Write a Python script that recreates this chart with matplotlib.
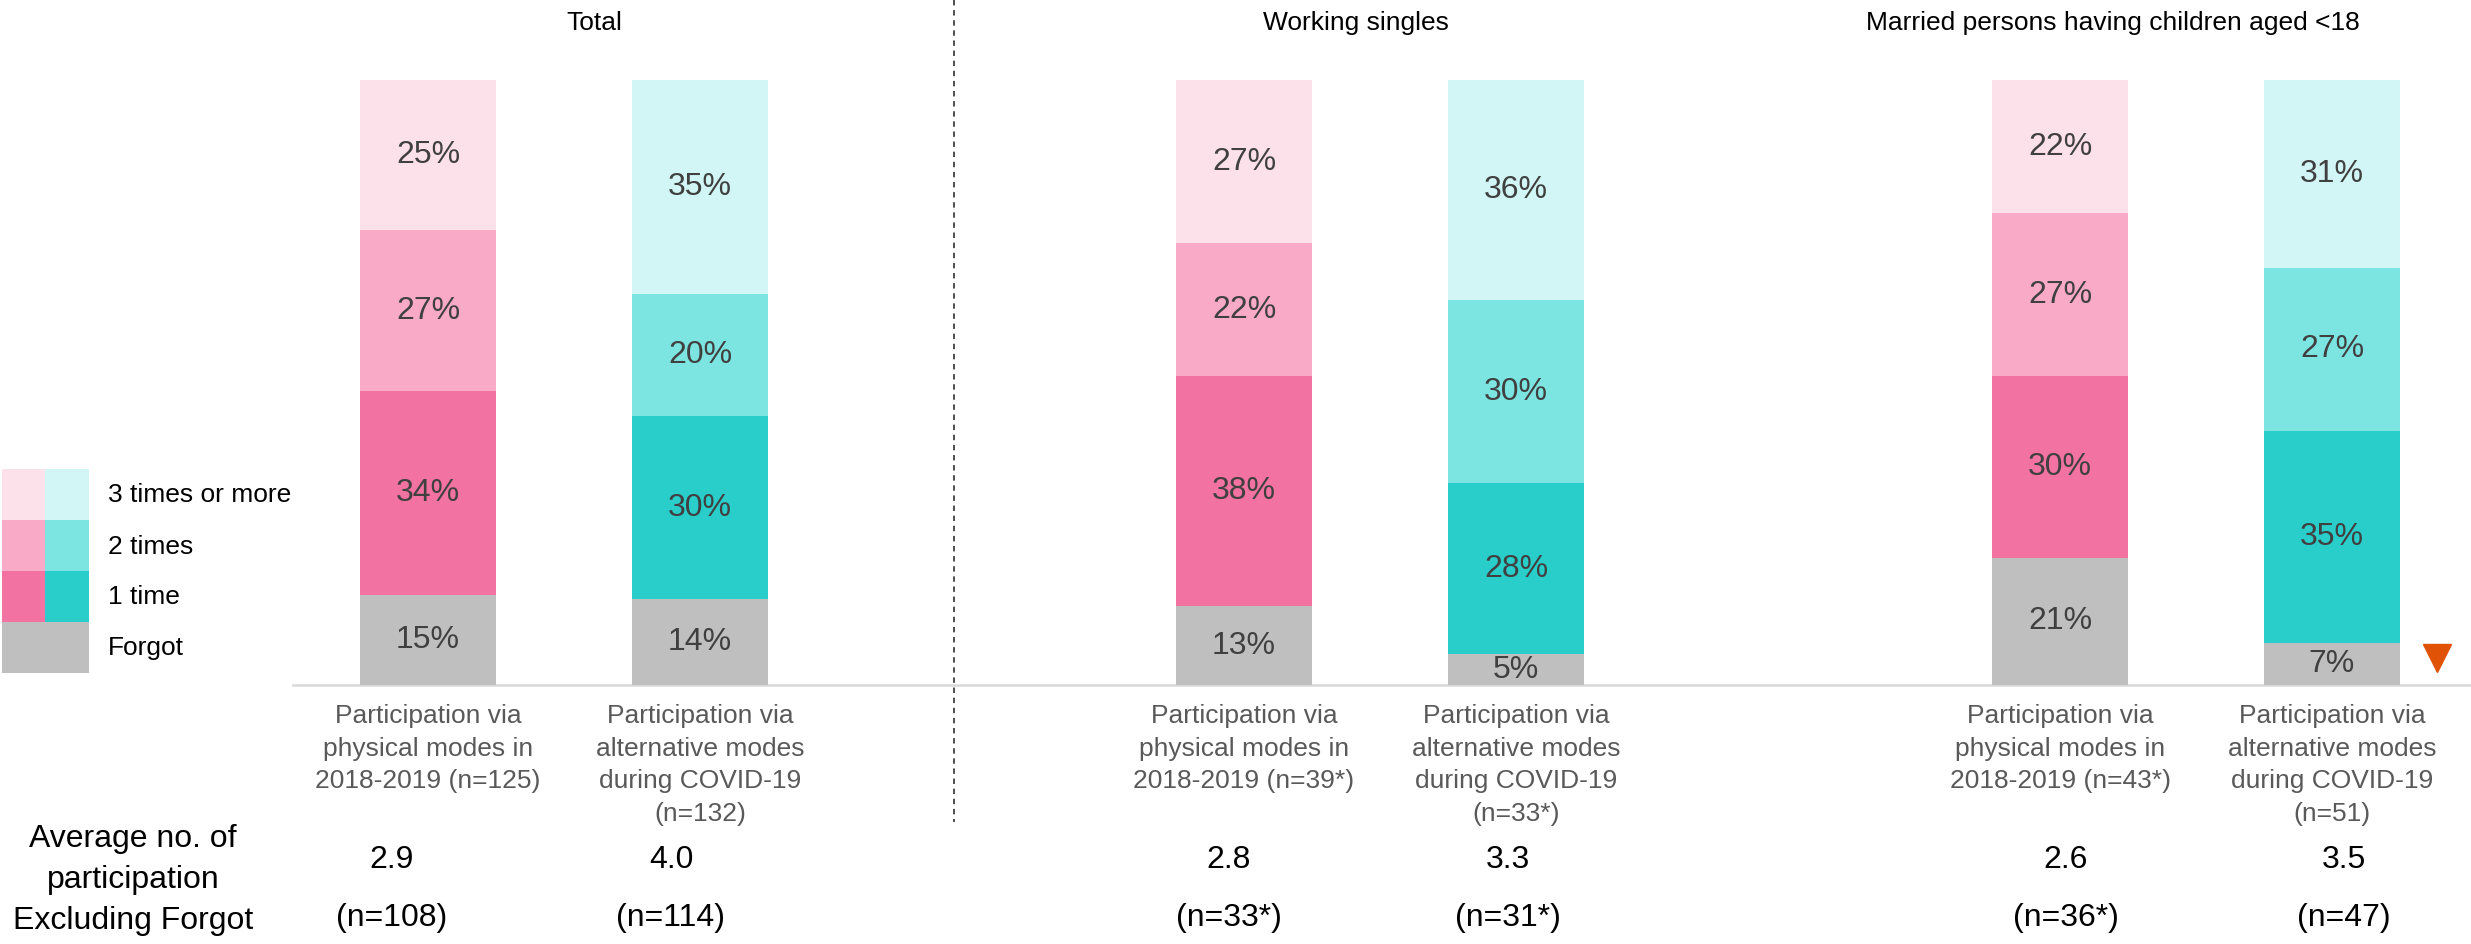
import matplotlib
matplotlib.use("Agg")
import matplotlib.pyplot as plt
import matplotlib.transforms as mtransforms
from matplotlib.patches import Rectangle
from matplotlib.lines import Line2D
import numpy as np

plt.rcParams['font.family'] = ['Liberation Sans', 'DejaVu Sans']

# ---------------- data ----------------
segments = ["Forgot", "1 time", "2 times", "3 times or more"]
group_titles = ["Total", "Working singles", "Married persons having children aged <18"]
bar_labels = [
    "Participation via\nphysical modes in\n2018-2019 (n=125)",
    "Participation via\nalternative modes\nduring COVID-19\n(n=132)",
    "Participation via\nphysical modes in\n2018-2019 (n=39*)",
    "Participation via\nalternative modes\nduring COVID-19\n(n=33*)",
    "Participation via\nphysical modes in\n2018-2019 (n=43*)",
    "Participation via\nalternative modes\nduring COVID-19\n(n=51)",
]
# values per bar: Forgot, 1 time, 2 times, 3 times or more
forgot = [15, 14, 13, 5, 21, 7]
one_time = [34, 30, 38, 28, 30, 35]
two_times = [27, 20, 22, 30, 27, 27]
three_plus = [25, 35, 27, 36, 22, 31]
bar_mode = ["physical", "alternative", "physical", "alternative", "physical", "alternative"]
avg_participation = [2.9, 4.0, 2.8, 3.3, 2.6, 3.5]
avg_n = ["(n=108)", "(n=114)", "(n=33*)", "(n=31*)", "(n=36*)", "(n=47)"]
avg_label = "Average no. of\nparticipation\nExcluding Forgot"

# ---------------- style / layout ----------------
W, H = 2471, 944
colors = {
    "physical": ["#BFBFBF", "#F272A1", "#F8AAC7", "#FCE1EA"],
    "alternative": ["#BFBFBF", "#29CECA", "#7CE4E1", "#D2F5F5"],
}
bar_x = [428, 700, 1244, 1516, 2060, 2332]     # layout positions (px)
bar_w = 136
avg_x = [392, 671, 1229, 1508, 2066, 2344]
title_x = [594, 1356, 2113]
base_px, top_px = 685, 80

fig = plt.figure(figsize=(W / 100, H / 100), dpi=100)
ax = fig.add_axes([0, (H - base_px) / H, 1, (base_px - top_px) / H])
ax.set_xlim(0, W)
ax.set_ylim(0, 100)
ax.axis("off")

vals = np.array([forgot, one_time, two_times, three_plus], dtype=float)
norm = vals / vals.sum(axis=0) * 100

for i in range(len(bar_x)):
    bottom = 0
    for s in range(len(segments)):
        h = norm[s, i]
        ax.bar(bar_x[i], h, width=bar_w, bottom=bottom,
               color=colors[bar_mode[i]][s], edgecolor="none", zorder=2)
        ax.text(bar_x[i], bottom + h / 2, f"{int(vals[s, i])}%",
                ha="center", va="center", fontsize=23, color="#404040", zorder=3)
        bottom += h

# baseline
ax.axhline(0, xmin=293 / W, xmax=1, color="#D9D9D9", lw=1.8, zorder=1, clip_on=False)

trans = mtransforms.blended_transform_factory(ax.transData, fig.transFigure)

def fy(px):
    return 1 - px / H

# group titles
for t, x in zip(group_titles, title_x):
    fig.text(x, fy(23), t, transform=trans, ha="center", va="center",
             fontsize=19, color="black")

# category labels
for i, lab in enumerate(bar_labels):
    fig.text(bar_x[i], fy(704), lab, transform=trans, ha="center", va="top",
             fontsize=19, color="#595959", linespacing=1.45)

# averages
for i in range(len(bar_x)):
    fig.text(avg_x[i], fy(860), f"{avg_participation[i]:.1f}", transform=trans,
             ha="center", va="center", fontsize=23, color="black")
    fig.text(avg_x[i], fy(918), avg_n[i], transform=trans,
             ha="center", va="center", fontsize=23, color="black")

fig.text(133, fy(880), avg_label, transform=trans, ha="center", va="center",
         fontsize=23, color="black", linespacing=1.48)

# dashed separator
fig.add_artist(Line2D([954, 954], [fy(0), fy(822)], transform=trans,
                      color="#404040", lw=1.3, linestyle=(0, (3, 2.6))))

# legend (manual, two columns of swatches)
row_top = [469, 520, 571, 622]   # px from top for legend rows (3+, 2, 1, forgot)
row_h = 51
for r, s in enumerate([3, 2, 1, 0]):
    y0 = fy(row_top[r] + row_h)
    if s == 0:
        fig.add_artist(Rectangle((2, y0), 87, row_h / H, transform=trans,
                                 color=colors["physical"][0], lw=0))
    else:
        fig.add_artist(Rectangle((2, y0), 43, row_h / H, transform=trans,
                                 color=colors["physical"][s], lw=0))
        fig.add_artist(Rectangle((45, y0), 44, row_h / H, transform=trans,
                                 color=colors["alternative"][s], lw=0))
    fig.text(108, fy(row_top[r] + row_h / 2 + 1), segments[s], transform=trans,
             ha="left", va="center", fontsize=19, color="black")

# significance marker
ax.plot([2437], [norm[0, 5] / 2 + 1], marker="v", markersize=20, color="#E05206",
        linestyle="none", clip_on=False, zorder=3)

fig.savefig("out.png", dpi=100, facecolor="white")
